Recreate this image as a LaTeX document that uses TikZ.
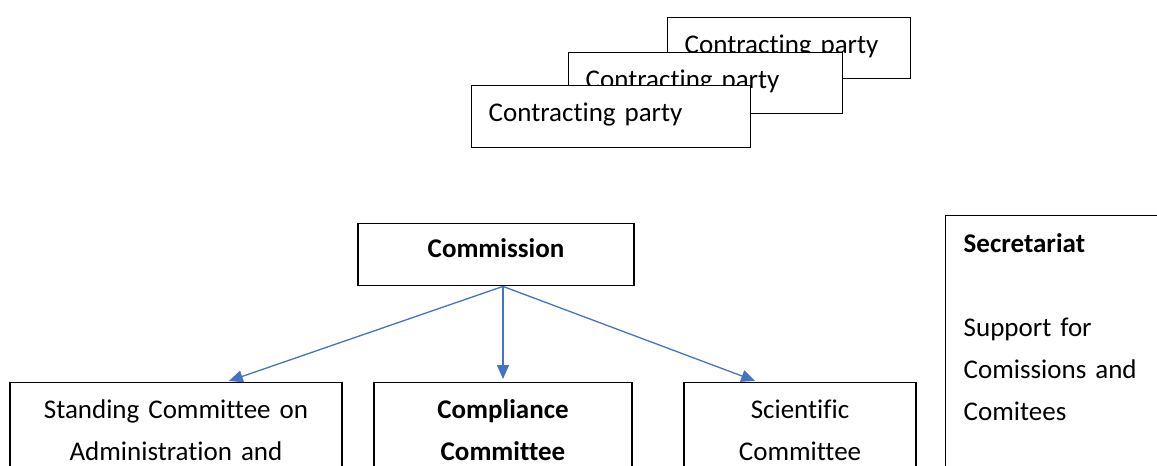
\documentclass[tikz,border=0pt]{standalone}
\usepackage{fontspec}
\setmainfont{Carlito}[Ligatures=NoCommon]
\definecolor{ArrowBlue}{HTML}{4472C4}
\usetikzlibrary{arrows.meta, positioning, calc}

\begin{document}
\begin{tikzpicture}[
        x=1pt, y=-1pt,
        every node/.style={font=\fontsize{27}{42}\selectfont},
        party/.style={rectangle, draw=black, line width=1.4pt, fill=white, anchor=north west,
            inner xsep=17pt, inner ysep=0pt, align=left, text height=36pt, text depth=25pt},
        box/.style={rectangle, draw=black, line width=1.4pt, fill=white, anchor=north,
            inner xsep=6pt, inner ysep=0pt, align=center, text height=36pt},
        arrow/.style={-{Triangle[length=14pt, width=12pt]}, line width=1.3pt, ArrowBlue, shorten >=3pt}
    ]
        \useasboundingbox (0,0) rectangle (1157,466);
        \clip (0,0) rectangle (1157,466);

        % Contracting parties, back to front
        \node[party, text width=209pt] (party3) at (667,17) {Contracting party};
        \node[party, text width=240pt] (party2) at (568,52) {Contracting party};
        \node[party, text width=245pt, text depth=26pt] (party1) at (471,85) {Contracting party};

        % Commission
        \node[box, text width=264pt, text height=34pt, text depth=28pt] (comm) at (496,223) {\textbf{Commission}};

        % Committees
        \node[box, text width=320pt, text depth=100pt] (stand) at (176,382) {Standing Committee on\\Administration and};
        \node[box, text width=246pt, text depth=100pt] (compl) at (503,382) {\textbf{Compliance}\\\textbf{Committee}};
        \node[box, text width=220pt, text depth=100pt] (sci) at (800,382) {Scientific\\Committee};

        \draw[arrow] (comm.south -| compl.north) -- ($(stand.north west)!0.65!(stand.north east)$);
        \draw[arrow] (comm.south -| compl.north) -- (compl.north);
        \draw[arrow] (comm.south -| compl.north) -- ($(sci.north west)!0.32!(sci.north east)$);

        % Secretariat
        \node[party, text width=220pt, inner xsep=18pt, text height=37pt, text depth=230pt] (secr) at (945,215)
            {\textbf{Secretariat}\\[42pt]Support for\\Comissions and\\Comitees};
    \end{tikzpicture}
\end{document}
